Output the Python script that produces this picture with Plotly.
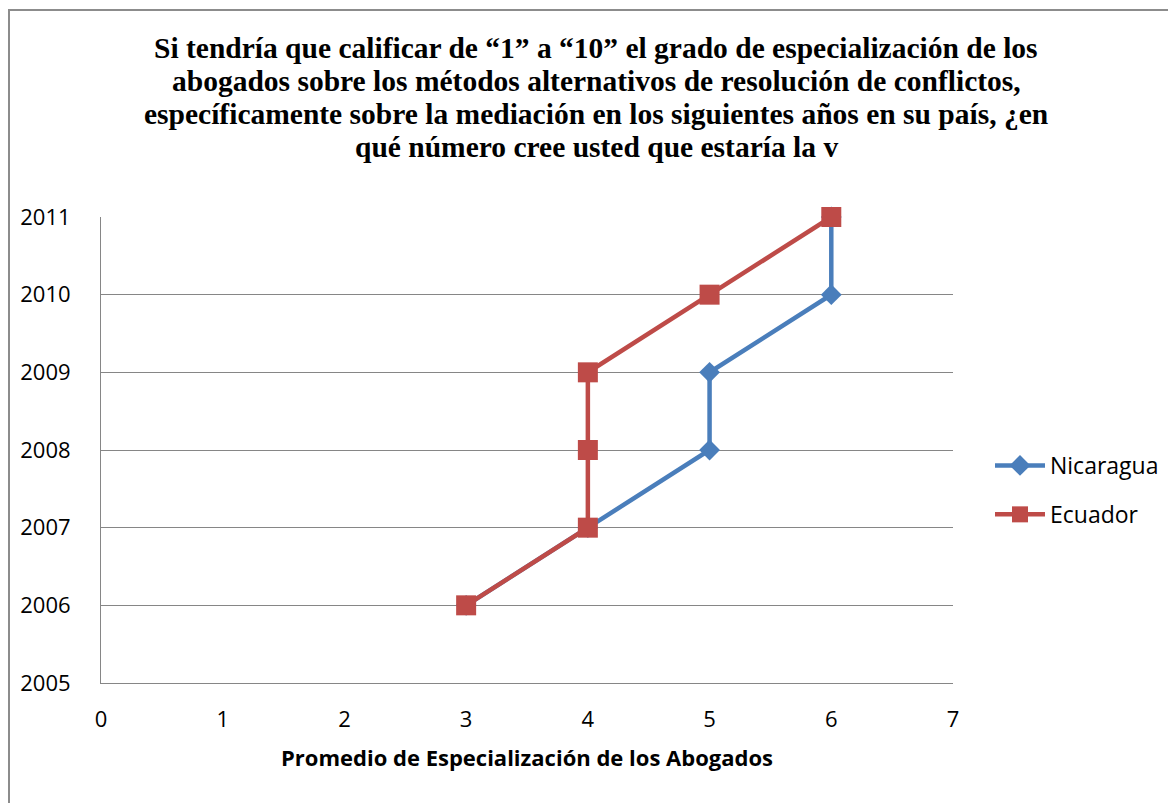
import plotly.graph_objects as go

years = [2006, 2007, 2008, 2009, 2010, 2011]
nicaragua = [3, 4, 5, 5, 6, 6]
ecuador = [3, 4, 4, 4, 5, 6]
x_ticks = [0, 1, 2, 3, 4, 5, 6, 7]
y_ticks = [2005, 2006, 2007, 2008, 2009, 2010, 2011]

title_lines = [
    "Si tendría que calificar de “1” a “10” el grado de especialización de los",
    "abogados sobre los métodos alternativos de resolución de conflictos,",
    "específicamente sobre la mediación en los siguientes años en su país, ¿en",
    "qué número cree usted que estaría la v",
]
title_y_page = [48, 81, 114, 147]

fig = go.Figure()
fig.add_trace(go.Scatter(
    x=nicaragua, y=years, mode="lines+markers", name="Nicaragua", legendgroup="n",
    line=dict(color="#4A7EBB", width=4.5), cliponaxis=False,
    marker=dict(symbol="diamond", size=16, color="#4A7EBB"),
))
fig.add_trace(go.Scatter(
    x=ecuador, y=years, mode="lines+markers", name="Ecuador", legendgroup="e",
    line=dict(color="#BE4B48", width=4.5), cliponaxis=False,
    marker=dict(symbol="square", size=20, color="#BE4B48"),
))

O = 8  # default page body margin
W, H = 1176 - O, 803 - O
L, R, T, B = 101, 953, 217, 683  # plot area in page pixels
pw, ph = R - L, B - T

def px(xp):
    return (xp - L) / pw

def py(yp):
    return (B - yp) / ph

fig.add_shape(type="rect", xref="paper", yref="paper",
              x0=px(9), x1=px(1200), y0=py(840), y1=py(10),
              line=dict(color="#8C8C8C", width=2), layer="below")

for txt, yy in zip(title_lines, title_y_page):
    fig.add_annotation(text=txt, xref="paper", yref="paper", x=px(596), y=py(yy),
                       xanchor="center", yanchor="middle", showarrow=False,
                       font=dict(family="Liberation Serif", size=29.5, color="black", weight="bold"))

fig.update_layout(
    width=W, height=H,
    margin=dict(l=L - O, r=W - (R - O), t=T - O, b=H - (B - O), pad=0),
    paper_bgcolor="white", plot_bgcolor="white",
    xaxis=dict(range=[0, 7], tickvals=x_ticks, showgrid=False, zeroline=False,
               showline=True, linecolor="#868686", linewidth=1, ticks="",
               ticklabelstandoff=17,
               tickfont=dict(family="Open Sans", size=22, color="black"),
               title=dict(text="Promedio de Especialización de los Abogados", standoff=18,
                          font=dict(family="Open Sans", size=22, color="black", weight="bold"))),
    yaxis=dict(range=[2005, 2011], tickvals=y_ticks, showgrid=True, gridcolor="#868686", gridwidth=1,
               zeroline=False, showline=True, linecolor="#868686", linewidth=1, ticks="",
               ticklabelstandoff=25,
               tickfont=dict(family="Open Sans", size=22, color="black")),
    legend=dict(x=px(990), y=py(444), xanchor="left", yanchor="top",
                font=dict(family="Open Sans", size=23, color="black"),
                itemwidth=50, tracegroupgap=16, bgcolor="rgba(0,0,0,0)"),
    showlegend=True,
)
fig.write_html("out.html")
